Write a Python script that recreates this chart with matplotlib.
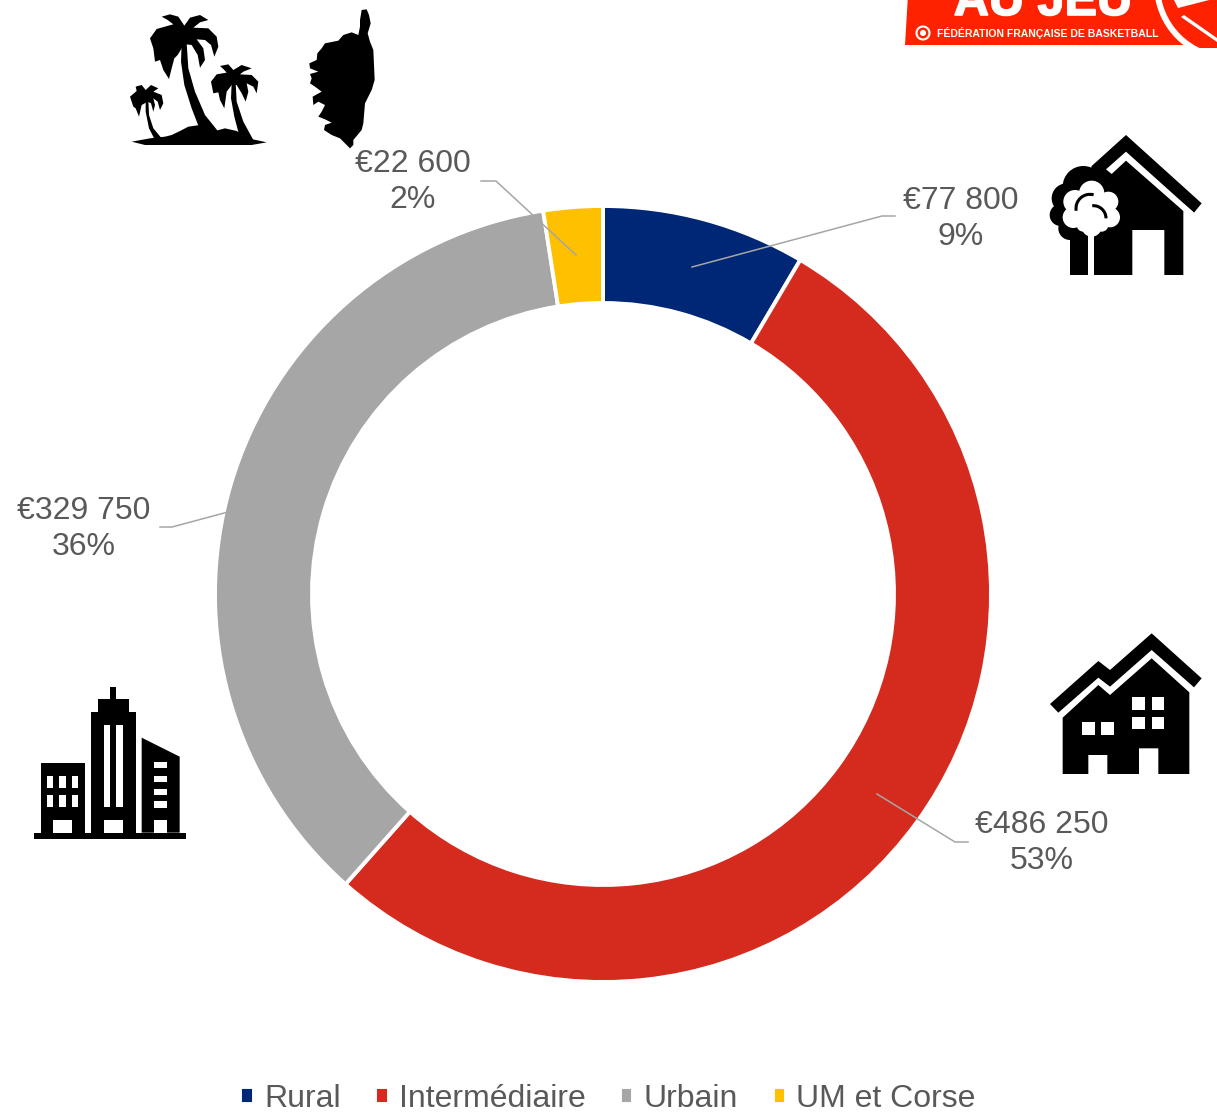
import matplotlib
matplotlib.use("Agg")
import matplotlib.pyplot as plt
import matplotlib.patheffects as pe
from matplotlib.patches import Polygon, Rectangle, Circle, Arc

plt.rcParams['font.family'] = ['Liberation Sans', 'DejaVu Sans']

W, H = 1217, 1117
GREY_TXT = "#595959"
LINE = "#a6a6a6"
RED = "#ff2200"

categories = ["Rural", "Intermédiaire", "Urbain", "UM et Corse"]
amounts = [77800, 486250, 329750, 22600]
amount_labels = ["€77 800", "€486 250", "€329 750", "€22 600"]
pct_labels = ["9%", "53%", "36%", "2%"]
colors = ["#002776", "#d52b1e", "#a6a6a6", "#ffc000"]

# label centres and leader lines, in pixels of the picture
label_pos = [(961, 219), (1042, 843), (84, 529), (413, 182)]
leaders = [
    [(692, 267), (882, 216), (895, 216)],
    [(877, 794), (955, 842), (968, 842)],
    [(228, 512), (172, 527), (160, 527)],
    [(576, 255), (496, 181), (481, 181)],
]

fig = plt.figure(figsize=(W / 100, H / 100), dpi=100)

# donut
cx, cy, r = 603, 594, 388
ax = fig.add_axes([(cx - r) / W, (H - cy - r) / H, 2 * r / W, 2 * r / H])
wedges, _ = ax.pie(amounts, colors=colors, startangle=90, counterclock=False, radius=1,
                   wedgeprops=dict(width=97 / 388, edgecolor="white", linewidth=2.8))
ax.set_xlim(-1, 1)
ax.set_ylim(-1, 1)

# overlay in picture pixels for labels and icons
ov = fig.add_axes([0, 0, 1, 1])
ov.set_xlim(0, W)
ov.set_ylim(H, 0)
ov.axis("off")
ov.patch.set_alpha(0)

for amt, pct, pos, pts in zip(amount_labels, pct_labels, label_pos, leaders):
    ov.text(pos[0], pos[1], amt + "\n" + pct, ha="center", va="center", fontsize=23,
            color=GREY_TXT, linespacing=1.3)
    ov.plot([p[0] for p in pts], [p[1] for p in pts], color=LINE, lw=1.1)


# icon shapes are noted on 3x crops, so everything is divided by 3
def poly(points, ox=0, oy=0, color="black", z=3):
    pts = [(ox + x / 3, oy + y / 3) for x, y in points]
    ov.add_patch(Polygon(pts, closed=True, fc=color, ec="none", zorder=z))


def rect(x0, y0, x1, y1, ox, oy, color="white", z=4):
    ov.add_patch(Rectangle((ox + x0 / 3, oy + y0 / 3), (x1 - x0) / 3, (y1 - y0) / 3,
                           fc=color, ec="none", zorder=z))


def blob(items, ox, oy, color, z):
    for x, y, rad in items:
        ov.add_patch(Circle((ox + x / 3, oy + y / 3), rad / 3, fc=color, ec="none", zorder=z))


# palms
palm_big = [(110, 35), (135, 28), (160, 35), (178, 62), (195, 38), (225, 30), (250, 45), (225, 52), (205, 68),
            (250, 70), (275, 95), (280, 125), (268, 155), (258, 120), (240, 105), (215, 103), (235, 130),
            (240, 165), (225, 188), (218, 150), (200, 120), (183, 118), (170, 130), (158, 150), (148, 160),
            (140, 190), (132, 222), (115, 195), (105, 165), (90, 170), (85, 130), (75, 100), (95, 72),
            (130, 62), (145, 58), (128, 45)]
trunk_big = [(170, 115), (185, 115), (190, 190), (210, 260), (240, 330), (280, 380), (225, 375), (200, 310),
             (178, 240), (168, 170)]
palm_mid = [(285, 183), (310, 178), (325, 195), (350, 180), (380, 190), (355, 200), (345, 208), (380, 210),
            (400, 230), (395, 265), (385, 245), (365, 235), (370, 260), (362, 290), (350, 265), (335, 240),
            (320, 240), (305, 260), (298, 310), (285, 285), (280, 262), (265, 265), (258, 230), (275, 208),
            (305, 203), (295, 192)]
trunk_mid = [(320, 235), (332, 235), (335, 290), (355, 350), (385, 405), (345, 400), (328, 335), (318, 280)]
palm_small = [(32, 245), (50, 240), (62, 255), (78, 240), (100, 250), (85, 260), (110, 270), (115, 295),
              (105, 315), (98, 290), (85, 280), (90, 300), (85, 320), (78, 295), (68, 290), (50, 300),
              (42, 335), (32, 310), (25, 305), (15, 275), (35, 258)]
trunk_small = [(62, 285), (70, 285), (72, 330), (85, 370), (110, 400), (90, 405), (72, 370), (62, 320)]
island = [(20, 410), (75, 400), (120, 395), (140, 390), (165, 378), (190, 365), (225, 360), (270, 378),
          (300, 370), (335, 378), (370, 400), (425, 412), (380, 420), (60, 420)]
for shape in (palm_big, trunk_big, palm_mid, trunk_mid, palm_small, trunk_small, island):
    poly(shape, 125, 5)

# Corsica
corse_pts = [(185, 30), (200, 28), (207, 45), (212, 70), (203, 100), (210, 125), (220, 150), (224, 240),
             (215, 270), (195, 310), (190, 370), (185, 390), (160, 420), (160, 435), (150, 445), (135, 430),
             (120, 415), (95, 405), (72, 390), (75, 375), (95, 368), (75, 358), (55, 350), (65, 335),
             (75, 315), (55, 305), (40, 315), (38, 290), (65, 275), (45, 260), (30, 250), (35, 235),
             (30, 222), (55, 215), (30, 205), (28, 190), (50, 180), (52, 160), (65, 145), (75, 130),
             (115, 122), (130, 105), (155, 97), (175, 105), (180, 80), (180, 60)]
poly(corse_pts, 300, 0)

# rural house
ox, oy = 1040, 130
poly([(155, 108), (258, 15), (485, 220), (462, 248), (430, 220), (430, 435), (373, 435), (373, 300),
      (277, 300), (277, 435), (90, 435), (90, 330)], ox, oy)
poly([(198, 118), (258, 65), (462, 248), (430, 243), (258, 92), (215, 132)], ox, oy, "white", 4)
blob([(130, 170, 62), (80, 205, 45), (62, 255, 33), (90, 295, 35), (160, 250, 85)], ox, oy, "black", 5)
blob([(155, 190, 38), (105, 215, 35), (205, 215, 30), (210, 262, 30), (100, 262, 32), (155, 290, 30),
      (155, 240, 52), (130, 285, 20), (185, 285, 20)], ox, oy, "white", 6)
rect(145, 300, 163, 435, ox, oy, "white", 6)
ov.add_patch(Arc((ox + 150 / 3, oy + 235 / 3), 84 / 3, 84 / 3, theta1=170, theta2=285, color="black", lw=2.2, zorder=7))
ov.add_patch(Arc((ox + 160 / 3, oy + 265 / 3), 76 / 3, 76 / 3, theta1=265, theta2=360, color="black", lw=2.2, zorder=7))

# intermediate house
ox, oy = 1040, 625
poly([(30, 237), (175, 108), (210, 135), (335, 25), (485, 160), (462, 187), (335, 75), (210, 185),
      (175, 158), (55, 263)], ox, oy)
poly([(68, 278), (175, 180), (210, 210), (335, 100), (448, 202), (448, 447), (355, 447), (355, 370),
      (297, 370), (297, 447), (202, 447), (202, 390), (145, 390), (145, 447), (68, 447)], ox, oy)
for x0, y0 in [(277, 216), (335, 216), (277, 275), (335, 275), (126, 292), (183, 292)]:
    rect(x0, y0, x0 + 38, y0 + 38, ox, oy)

# city
ox, oy = 25, 680
rect(27, 458, 483, 476, ox, oy, "black", 3)
rect(47, 250, 180, 458, ox, oy, "black", 3)
rect(198, 97, 332, 458, ox, oy, "black", 3)
rect(218, 58, 312, 97, ox, oy, "black", 3)
rect(255, 20, 274, 58, ox, oy, "black", 3)
poly([(350, 173), (464, 230), (464, 458), (350, 458)], ox, oy)
for x0 in (65, 103, 141):
    for y0 in (288, 345):
        rect(x0, y0, x0 + 19, y0 + 37, ox, oy)
rect(85, 420, 142, 458, ox, oy)
rect(236, 135, 256, 382, ox, oy)
rect(274, 135, 294, 382, ox, oy)
rect(236, 420, 294, 458, ox, oy)
for y0 in (246, 288, 326, 364):
    rect(388, y0, 427, y0 + 19, ox, oy)
rect(388, 420, 427, 458, ox, oy)

# logo, cut by the top of the picture
ov.add_patch(Circle((1230, -15), 76, fc="white", ec="none", zorder=3))
ov.add_patch(Polygon([(908, -5), (1160, -5), (1186, 45), (905, 45)], fc=RED, ec="none", zorder=2))
ov.add_patch(Circle((1230, -15), 70, fc=RED, ec="none", zorder=4))
ov.add_patch(Polygon([(1173, -2), (1178, 8), (1217, -2)], fc="white", ec="none", zorder=5))
ov.add_patch(Polygon([(1181, 17), (1184, 15), (1217, 38), (1217, 42)], fc="white", ec="none", zorder=5))
ov.add_patch(Rectangle((1160, 48), 60, 12, fc="white", ec="none", zorder=5))
ov.text(1043, 15, "AU JEU", ha="center", va="baseline", fontsize=35, fontweight="bold",
        color="white", zorder=6, path_effects=[pe.withStroke(linewidth=1.2, foreground="white")])
ov.add_patch(Circle((923, 33), 6.5, fc="none", ec="white", lw=1.5, zorder=6))
ov.add_patch(Circle((923, 33), 3, fc="white", ec="none", zorder=6))
ov.text(937, 33, "FÉDÉRATION FRANÇAISE DE BASKETBALL", ha="left", va="center", fontsize=7.5,
        fontweight="bold", color="white", zorder=6)

leg = fig.legend(wedges, categories, loc="lower center", bbox_to_anchor=(608 / W, -0.023), ncol=4, frameon=False,
                 fontsize=23, labelcolor=GREY_TXT, handlelength=0.42, handleheight=0.42,
                 handletextpad=0.32, columnspacing=1.08)

fig.savefig("out.png", dpi=100)
